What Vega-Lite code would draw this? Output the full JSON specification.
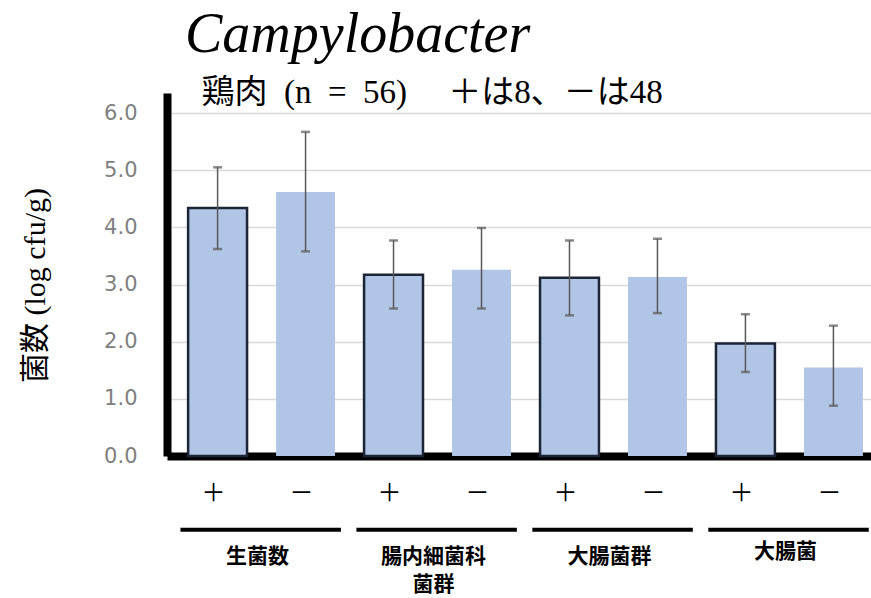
{
  "$schema": "https://vega.github.io/schema/vega-lite/v6.json",
  "autosize": "none",
  "width": 717,
  "height": 363,
  "padding": {"left": 167, "top": 93, "right": 0, "bottom": 142},
  "background": "white",
  "title": {
    "text": "Campylobacter",
    "subtitle": "\u200b\u00a0\u00a0鶏肉\u00a0\u00a0(n\u00a0\u00a0=\u00a0\u00a056)\u00a0\u00a0\u00a0\u00a0 ＋は8、－は48",
    "anchor": "start",
    "frame": "group",
    "dx": 18,
    "offset": -18,
    "font": "Liberation Serif",
    "fontStyle": "italic",
    "fontWeight": "normal",
    "fontSize": 56,
    "color": "black",
    "subtitleFont": "Liberation Serif, Noto Sans CJK JP",
    "subtitleFontSize": 33,
    "subtitleColor": "black",
    "subtitlePadding": 13
  },
  "config": {"view": {"stroke": null}},
  "datasets": {
    "bars": [
      {"id": "生菌数＋", "sign": "＋", "mean": 4.34, "lo": 3.62, "hi": 5.05},
      {"id": "生菌数－", "sign": "－", "mean": 4.62, "lo": 3.58, "hi": 5.67},
      {"id": "腸内細菌科菌群＋", "sign": "＋", "mean": 3.17, "lo": 2.58, "hi": 3.77},
      {"id": "腸内細菌科菌群－", "sign": "－", "mean": 3.26, "lo": 2.58, "hi": 3.99},
      {"id": "大腸菌群＋", "sign": "＋", "mean": 3.12, "lo": 2.46, "hi": 3.77},
      {"id": "大腸菌群－", "sign": "－", "mean": 3.13, "lo": 2.5, "hi": 3.8},
      {"id": "大腸菌＋", "sign": "＋", "mean": 1.97, "lo": 1.47, "hi": 2.48},
      {"id": "大腸菌－", "sign": "－", "mean": 1.55, "lo": 0.88, "hi": 2.28}
    ],
    "groups": [
      {"first": "生菌数＋", "second": "生菌数－", "label": ["生菌数"], "lineY": -1.29, "textY": -1.57},
      {"first": "腸内細菌科菌群＋", "second": "腸内細菌科菌群－", "label": ["腸内細菌科", "菌群"], "lineY": -1.29, "textY": -1.57},
      {"first": "大腸菌群＋", "second": "大腸菌群－", "label": ["大腸菌群"], "lineY": -1.29, "textY": -1.57},
      {"first": "大腸菌＋", "second": "大腸菌－", "label": ["大腸菌"], "lineY": -1.29, "textY": -1.49}
    ]
  },
  "layer": [
    {
      "data": {"name": "bars"},
      "mark": {"type": "bar", "fill": "#b1c5e6", "strokeWidth": 2.5},
      "encoding": {
        "x": {
          "field": "id", "type": "nominal", "sort": null,
          "scale": {"paddingInner": 0.33, "paddingOuter": 0.24},
          "axis": {
            "title": null, "labelExpr": "slice(datum.label, -1)", "labelAngle": 0,
            "ticks": false, "labelPadding": 25, "labelFontSize": 24,
            "labelFont": "Noto Sans CJK JP", "labelColor": "black",
            "domainColor": "black", "domainWidth": 8, "labelOffset": -4
          }
        },
        "y": {
          "field": "mean", "type": "quantitative",
          "scale": {"domain": [0, 6.35], "nice": false},
          "axis": {
            "values": [0, 1, 2, 3, 4, 5, 6], "format": ".1f",
            "title": "菌数 (log cfu/g)", "titleFont": "Liberation Serif, Noto Sans CJK JP",
            "titleFontSize": 30, "titleFontWeight": "normal", "titleColor": "black",
            "titleX": -132, "titleY": 192, "titleAngle": -90, "titleAlign": "center", "titleBaseline": "middle",
            "ticks": false, "labelPadding": 30, "labelFontSize": 21, "labelFont": "DejaVu Sans",
            "labelColor": "#808080", "domainColor": "black", "domainWidth": 8,
            "gridColor": "#d9d9d9", "gridWidth": 1.5
          }
        },
        "stroke": {
          "field": "sign", "type": "nominal",
          "scale": {"domain": ["＋", "－"], "range": ["#1b2536", "transparent"]},
          "legend": null
        }
      }
    },
    {
      "data": {"name": "bars"},
      "mark": {"type": "rule", "color": "#595959", "strokeWidth": 1.5},
      "encoding": {
        "x": {"field": "id", "type": "nominal", "sort": null},
        "y": {"field": "lo", "type": "quantitative"},
        "y2": {"field": "hi"}
      }
    },
    {
      "data": {"name": "bars"},
      "mark": {"type": "tick", "color": "#595959", "thickness": 2.5, "size": 9},
      "encoding": {
        "x": {"field": "id", "type": "nominal", "sort": null},
        "y": {"field": "lo", "type": "quantitative"}
      }
    },
    {
      "data": {"name": "bars"},
      "mark": {"type": "tick", "color": "#595959", "thickness": 2.5, "size": 9},
      "encoding": {
        "x": {"field": "id", "type": "nominal", "sort": null},
        "y": {"field": "hi", "type": "quantitative"}
      }
    },
    {
      "data": {"name": "groups"},
      "mark": {"type": "rule", "color": "black", "strokeWidth": 4},
      "encoding": {
        "x": {"field": "first", "type": "nominal", "sort": null, "bandPosition": -0.13},
        "x2": {"field": "second", "bandPosition": 1.1},
        "y": {"field": "lineY", "type": "quantitative"}
      }
    },
    {
      "data": {"name": "groups"},
      "mark": {"type": "text", "font": "Noto Sans CJK JP", "fontWeight": "bold", "fontSize": 21, "baseline": "top", "align": "center", "dx": 40, "lineHeight": 28, "color": "black"},
      "encoding": {
        "x": {"field": "first", "type": "nominal", "sort": null},
        "y": {"field": "textY", "type": "quantitative"},
        "text": {"field": "label"}
      }
    }
  ]
}
